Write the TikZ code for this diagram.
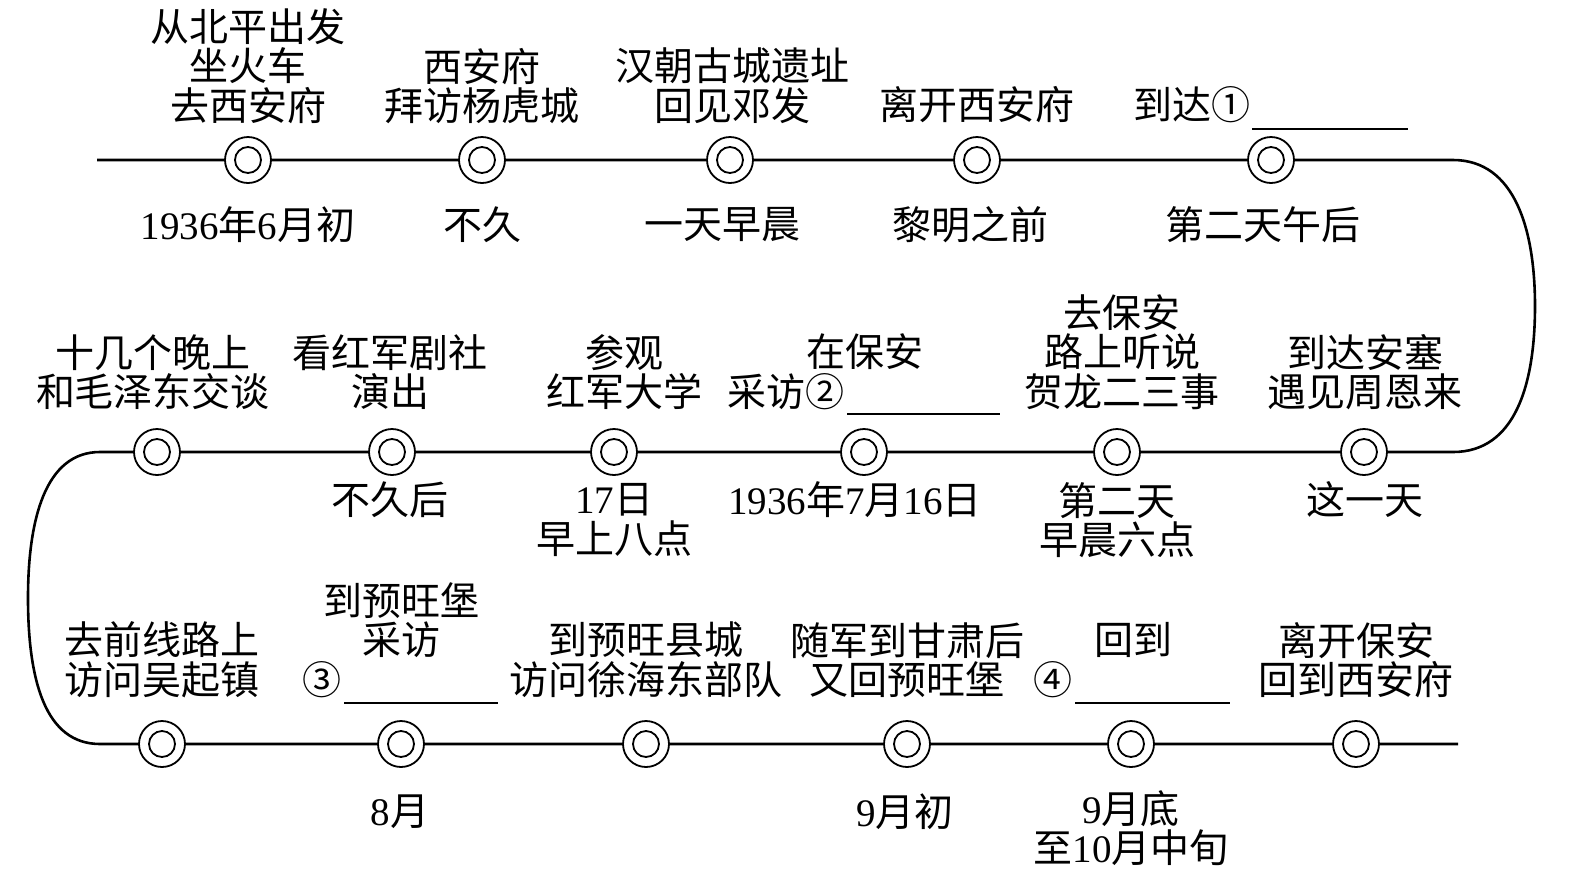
\documentclass[tikz,border=0pt]{standalone}
\usepackage{fontspec}
\setmainfont{Liberation Serif}
\newfontfamily\cjk{Noto Sans CJK SC}
\newcommand{\dg}[1]{{\rmfamily #1}}
\tikzset{
  lbl/.style={font=\cjk\fontsize{19.5}{19.8}\selectfont, align=center, inner sep=0pt},
  mk/.style={circle, draw, line width=0.9pt, fill=white, minimum size=23pt, inner sep=0pt,
    path picture={\draw[line width=0.9pt] (path picture bounding box.center) circle (6.5pt);}},
  road/.style={line width=1.3pt},
  blank/.style={line width=0.8pt}
}
\begin{document}
\begin{tikzpicture}[x=0.5pt,y=-0.5pt]
\useasboundingbox (0,0) rectangle (1571,891);
% markers
\node[mk] (m11) at (248,160) {};
\node[mk] (m12) at (482,160) {};
\node[mk] (m13) at (730,160) {};
\node[mk] (m14) at (977,160) {};
\node[mk] (m15) at (1271,160) {};
\node[mk] (m21) at (157,452) {};
\node[mk] (m22) at (392,452) {};
\node[mk] (m23) at (614,452) {};
\node[mk] (m24) at (864,452) {};
\node[mk] (m25) at (1117,452) {};
\node[mk] (m26) at (1364,452) {};
\node[mk] (m31) at (162,744) {};
\node[mk] (m32) at (401,744) {};
\node[mk] (m33) at (646,744) {};
\node[mk] (m34) at (907,744) {};
\node[mk] (m35) at (1131,744) {};
\node[mk] (m36) at (1356,744) {};
% path points
\coordinate (s) at (97,160);
\coordinate (r1) at (1453,160);
\coordinate (r2) at (1535,306);
\coordinate (r3) at (1453,452);
\coordinate (l1) at (100,452);
\coordinate (l2) at (28,598);
\coordinate (l3) at (100,744);
\coordinate (e) at (1458,744);
\draw[road] (s) -- (m11) -- (m12) -- (m13) -- (m14) -- (m15) -- (r1)
  .. controls (1515,160) and (1535,230) .. (r2)
  .. controls (1535,385) and (1515,452) .. (r3)
  -- (m26) -- (m25) -- (m24) -- (m23) -- (m22) -- (m21) -- (l1)
  .. controls (45,452) and (28,520) .. (l2)
  .. controls (28,680) and (45,744) .. (l3)
  -- (m31) -- (m32) -- (m33) -- (m34) -- (m35) -- (m36) -- (e);
% row 1 above
\node[lbl] (a1) at (248,66) {从北平出发\\坐火车\\去西安府};
\node[lbl] (a2) at (482,86) {西安府\\拜访杨虎城};
\node[lbl] (a3) at (732,86) {汉朝古城遗址\\回见邓发};
\node[lbl] (a4) at (977,105) {离开西安府};
\node[lbl] (a5) at (1192,105) {到达①};
\draw[blank] (1252,129) -- (1408,129);
% row 1 below
\node[lbl] (b1) at (248,225) {\dg{1936}年\dg{6}月初};
\node[lbl] (b2) at (482,225) {不久};
\node[lbl] (b3) at (722,225) {一天早晨};
\node[lbl] (b4) at (970,225) {黎明之前};
\node[lbl] (b5) at (1263,225) {第二天午后};
% row 2 above
\node[lbl] (c1) at (153,372) {十几个晚上\\和毛泽东交谈};
\node[lbl] (c2) at (390,372) {看红军剧社\\演出};
\node[lbl] (c3) at (624,372) {参观\\红军大学};
\node[lbl] (c4a) at (865,352) {在保安};
\node[lbl] (c4b) at (786,392) {采访②};
\draw[blank] (847,414) -- (1000,414);
\node[lbl] (c5) at (1122,352) {去保安\\路上听说\\贺龙二三事};
\node[lbl] (c6) at (1365,372) {到达安塞\\遇见周恩来};
% row 2 below
\node[lbl] (d2) at (390,500) {不久后};
\node[lbl] (d3) at (614,520) {\dg{17}日\\早上八点};
\node[lbl] (d4) at (855,500) {\dg{1936}年\dg{7}月\dg{16}日};
\node[lbl] (d5) at (1117,520) {第二天\\早晨六点};
\node[lbl] (d6) at (1365,500) {这一天};
% row 3 above
\node[lbl] (f1) at (162,660) {去前线路上\\访问吴起镇};
\node[lbl] (f2) at (401,620) {到预旺堡\\采访};
\node[lbl] (f2n) at (322,680) {③};
\draw[blank] (344,703) -- (498,703);
\node[lbl] (f3) at (646,660) {到预旺县城\\访问徐海东部队};
\node[lbl] (f4) at (907,660) {随军到甘肃后\\又回预旺堡};
\node[lbl] (f5) at (1133,640) {回到};
\node[lbl] (f5n) at (1053,680) {④};
\draw[blank] (1075,703) -- (1230,703);
\node[lbl] (f6) at (1356,660) {离开保安\\回到西安府};
% row 3 below
\node[lbl] (g2) at (400,812) {\dg{8}月};
\node[lbl] (g4) at (905,812) {\dg{9}月初};
\node[lbl] (g5) at (1131,828) {\dg{9}月底\\至\dg{10}月中旬};
\end{tikzpicture}
\end{document}
